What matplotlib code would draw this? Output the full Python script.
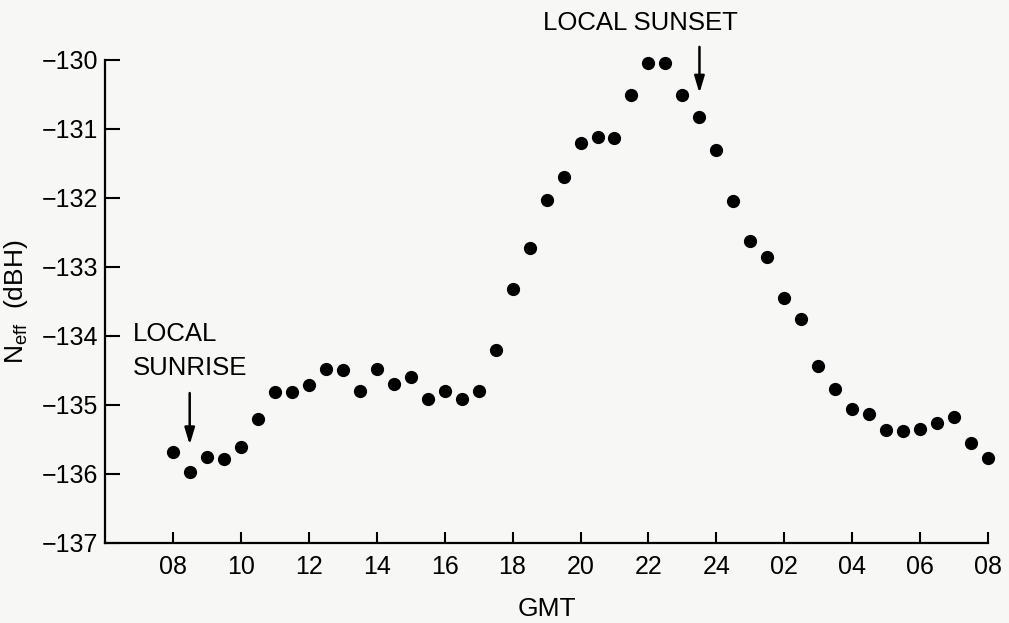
import matplotlib
matplotlib.use("Agg")
import matplotlib.pyplot as plt
import numpy as np

plt.rcParams['font.family'] = ['Liberation Sans', 'DejaVu Sans']
plt.rcParams['mathtext.default'] = 'regular'

# Half-hourly effective noise level, 08 GMT to 08 GMT next day
hours = np.arange(8.0, 32.01, 0.5)
n_eff = [
    -135.68, -135.98, -135.76, -135.78, -135.61, -135.20, -134.81, -134.81,
    -134.71, -134.48, -134.50, -134.80, -134.48, -134.70, -134.59, -134.91,
    -134.80, -134.91, -134.80, -134.21, -133.32, -132.73, -132.03, -131.70,
    -131.21, -131.12, -131.13, -130.51, -130.04, -130.04, -130.51, -130.83,
    -131.31, -132.04, -132.63, -132.85, -133.45, -133.76, -134.44, -134.77,
    -135.06, -135.14, -135.37, -135.38, -135.35, -135.26, -135.17, -135.56,
    -135.77,
]

xtick_pos = list(range(8, 33, 2))
xtick_labels = ["08", "10", "12", "14", "16", "18", "20", "22", "24",
                "02", "04", "06", "08"]
ytick_pos = list(range(-137, -129))

sunrise_hour = 8.5
sunset_hour = 23.5

bg = '#f7f7f6'
fig = plt.figure(figsize=(10.09, 6.23), dpi=100, facecolor=bg)
ax = fig.add_axes([0.1038, 0.1289, 0.8757, 0.7748], facecolor=bg)

ax.plot(hours, n_eff, linestyle='none', marker='o', markersize=8.5,
        color='black', clip_on=False, zorder=3)

ax.set_xlim(6, 32)
ax.set_ylim(-137, -130)
ax.set_xticks(xtick_pos)
ax.set_xticklabels(xtick_labels)
ax.set_yticks(ytick_pos)
ax.set_yticklabels([f"\u2212{abs(v)}" for v in ytick_pos])

for side in ('top', 'right'):
    ax.spines[side].set_visible(False)
for side in ('left', 'bottom'):
    ax.spines[side].set_linewidth(1.6)
    ax.spines[side].set_color('black')

ax.tick_params(axis='x', direction='in', length=8, width=1.5,
               labelsize=18, pad=9)
ax.tick_params(axis='y', direction='in', length=11, width=1.5,
               labelsize=18, pad=5)

ax.set_xlabel('GMT', fontsize=19, labelpad=13)
ax.set_ylabel(r'N$_{eff}$  (dBH)', fontsize=19, labelpad=8)

arrow = dict(arrowstyle='-|>,head_length=1.0,head_width=0.3',
             color='black', lw=1.8, shrinkA=0, shrinkB=0)

# Sunrise marker
ax.annotate('', xy=(sunrise_hour, -135.58), xytext=(sunrise_hour, -134.83),
            arrowprops=arrow)
ax.text(6.83, -133.97, 'LOCAL', fontsize=18.5, ha='left', va='center')
ax.text(6.83, -134.47, 'SUNRISE', fontsize=18.5, ha='left', va='center')

# Sunset marker
ax.annotate('', xy=(sunset_hour, -130.48), xytext=(sunset_hour, -129.81),
            arrowprops=arrow, annotation_clip=False)
ax.text(21.77, -129.46, 'LOCAL SUNSET', fontsize=18.5, ha='center',
        va='center', clip_on=False)

fig.savefig('out.png', dpi=100, facecolor=bg)
